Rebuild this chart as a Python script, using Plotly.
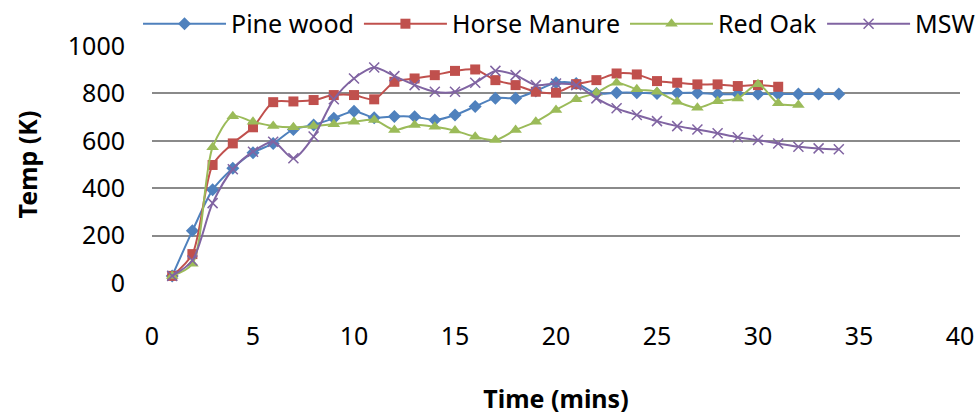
import plotly.graph_objects as go

time_pine = list(range(1, 35))
pine_wood = [30, 220, 393, 484, 550, 589, 648, 667, 695, 725, 697, 703, 702, 688, 709, 745,
             780, 780, 810, 845, 842, 800, 803, 803, 800, 802, 802, 797, 797, 797, 797, 797, 797, 797]

time_horse = list(range(1, 32))
horse_manure = [30, 122, 498, 589, 657, 763, 766, 772, 793, 793, 775, 849, 863, 877, 895, 901,
                856, 835, 807, 803, 839, 856, 884, 880, 852, 845, 838, 838, 831, 835, 828]

time_oak = list(range(1, 33))
red_oak = [30, 81, 573, 704, 680, 662, 657, 662, 670, 680, 688, 646, 667, 659, 643, 617,
           603, 646, 680, 730, 775, 803, 845, 817, 807, 765, 739, 767, 779, 839, 758, 751]

time_msw = list(range(1, 35))
msw = [30, 95, 337, 480, 554, 596, 526, 618, 775, 863, 909, 873, 835, 807, 807, 845,
       895, 877, 835, 842, 835, 779, 737, 709, 683, 662, 648, 632, 615, 603, 589, 575, 568, 564]

x_ticks = [0, 5, 10, 15, 20, 25, 30, 35, 40]
y_ticks = [0, 200, 400, 600, 800, 1000]

FONT = "Noto Sans"
FS = 25

series = [
    ("Pine wood", time_pine, pine_wood, "#4F81BD", "diamond", 10),
    ("Horse Manure", time_horse, horse_manure, "#C0504D", "square", 10),
    ("Red Oak", time_oak, red_oak, "#9BBB59", "triangle-up", 11),
    ("MSW", time_msw, msw, "#8064A2", "x-thin", 10),
]

fig = go.Figure()
for name, xs, ys, color, sym, size in series:
    marker = dict(symbol=sym, size=size, color=color)
    if sym == "x-thin":
        marker["line"] = dict(color=color, width=1.5)
    fig.add_trace(go.Scatter(
        x=xs, y=ys, name=name, mode="lines+markers",
        line=dict(color=color, width=2, shape="spline", smoothing=0.8),
        marker=marker,
    ))

fig.update_layout(
    width=977, height=415,
    margin=dict(l=152, r=17, t=46, b=132, autoexpand=False),
    paper_bgcolor="white", plot_bgcolor="white",
    font=dict(family=FONT, size=FS, color="#000000"),
    showlegend=True,
    legend=dict(
        orientation="h", x=-0.0173, xanchor="left", y=1.093, yanchor="middle",
        font=dict(family=FONT, size=FS, color="#000000"),
        itemwidth=83, bgcolor="rgba(0,0,0,0)",
    ),
    xaxis=dict(
        range=[0, 40], tickvals=x_ticks, showgrid=False, zeroline=False,
        showline=False, ticks="", ticklabelstandoff=36, automargin=False,
        tickfont=dict(family=FONT, size=FS),
        title=dict(text="<b>Time (mins)</b>", standoff=39,
                   font=dict(family=FONT, size=FS)),
    ),
    yaxis=dict(
        range=[0, 1000], tickvals=y_ticks, showgrid=True, gridcolor="#8A8A8A",
        gridwidth=1.5, zeroline=False, showline=False, ticks="", automargin=False,
        ticklabelstandoff=26, tickfont=dict(family=FONT, size=FS),
        title=dict(text="<b>Temp (K)</b>", standoff=23,
                   font=dict(family=FONT, size=FS)),
    ),
)

fig.write_html("out.html", config={"displayModeBar": False},
               post_script="document.body.style.margin='0';")
